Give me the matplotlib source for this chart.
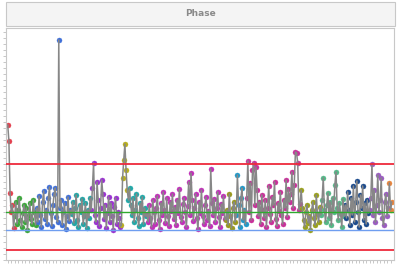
import numpy as np
import matplotlib.pyplot as plt
from matplotlib.patches import Rectangle

# phase values, one list per phase (colour)
red = [135, 119, 67, 48, 55, 32]
green = [44, 58, 36, 50, 62, 40, 33, 47, 55, 38, 52, 30, 45, 57, 41, 36, 60, 48, 35]
blue = [52, 38, 64, 45, 33, 58, 69, 41, 50, 36, 62, 73, 47, 34, 55, 66, 72, 43, 38, 220,
        52, 60, 35, 48, 57, 31, 44, 63, 39, 50]
teal = [46, 58, 37, 52, 65, 40, 33, 55, 48, 61, 36, 44, 57, 32, 50, 42, 62]
purple = [50, 72, 97, 45, 38, 78, 60, 34, 52, 80, 66, 41, 55, 32, 47, 63, 38, 57, 44, 30,
          53, 62, 36, 48, 42, 33]
yellow = [35, 82, 100, 116, 90, 70]
teal2 = [60, 72, 55, 45, 62, 38, 50, 66, 42, 34, 57, 48, 63, 36, 52, 44]
magenta = [46, 38, 55, 42, 33, 60, 48, 36, 52, 64, 40, 31, 57, 45, 68, 50, 37, 62, 44, 34,
           58, 49, 66, 41, 53, 35, 60, 47, 71, 43, 38, 56, 62, 48, 33, 54, 78, 45, 87, 60,
           39, 52, 66, 42, 31, 58, 47, 70, 44, 36, 55, 63, 40, 49, 34, 91, 57, 45, 61, 38,
           52, 68, 43, 33, 56, 47, 64, 41]
olive = [40, 50, 35, 66, 44, 32, 52, 58, 38]
tealblue = [45, 85, 55, 33, 62, 72, 40, 50, 36]
magenta2 = [62, 99, 48, 77, 40, 90, 97, 55, 93, 70, 44, 58, 36, 65, 50, 42, 60, 33, 52, 74,
            46, 38, 63, 55, 78, 41, 34, 57, 49, 68, 45, 36, 60, 52, 80, 43, 71, 58, 66, 88,
            52, 75, 108, 107, 97, 50, 56]
olive2 = [70, 52, 40, 33, 48, 55, 37, 44, 30, 50, 58, 42, 35, 65, 46, 38, 53]
greenteal = [45, 60, 82, 50, 38, 55, 67, 42, 58, 35, 62, 48, 75, 88, 52, 40, 57, 46, 33, 61, 44]
darkblue = [55, 42, 68, 50, 35, 62, 45, 74, 38, 58, 79, 48, 33, 65, 52, 74, 40, 57, 36, 60, 47]
lavender = [50, 62, 96, 45, 70, 38, 55, 85, 48, 60, 82, 42, 35, 58, 66, 44, 52]
orange = [77, 50, 58]

phases = [red, green, blue, teal, purple, yellow, teal2, magenta, olive, tealblue,
          magenta2, olive2, greenteal, darkblue, lavender, orange]
colors = ['#e2404e', '#3aa63a', '#3f6fd8', '#22a5a5', '#9a32d0', '#b8ae1c', '#22a8a8',
          '#c030b8', '#9a9a1c', '#2098c8', '#c8309a', '#9aa01c', '#55b888', '#1b4a8c',
          '#9a5cc0', '#e8843c']

ucl, lcl, center, lsl = 96, 10, 48, 30

allv = np.concatenate([np.array(p, dtype=float) for p in phases])
xs = np.arange(len(allv))

fig = plt.figure(figsize=(4, 2.65), dpi=100)
fig.patches.append(Rectangle((6/400, 1 - 26/265), 389/400, 24/265, transform=fig.transFigure,
                             facecolor='#f4f4f4', edgecolor='#c8c8c8', lw=0.8))
fig.text(200/400, 1 - 14/265, "Phase", ha='center', va='center', fontsize=6.5,
         fontweight='bold', color='#8a8a8a')

ax = fig.add_axes([6/400, 5/265, 388/400, 232/265])
start = 0
for p, c in zip(phases, colors):
    idx = np.arange(start, start + len(p))
    ax.plot(idx, p, 'o', color=c, ms=3.6, mec=c, mew=0.3, zorder=2)
    start += len(p)
ax.plot(xs, allv, color='#878787', lw=1.1, zorder=3)

ax.axhline(ucl, color='#ee2a3c', lw=1.3, zorder=4)
ax.axhline(lcl, color='#ee2a3c', lw=1.3, zorder=4)
ax.axhline(center, color='#2faa2f', lw=1.0, zorder=4)
ax.axhline(lsl, color='#6f9ef0', lw=1.0, zorder=4)

ax.set_xlim(-1.5, len(allv) + 1)
ax.set_ylim(0, 232)
ax.set_yticks(np.arange(0, 232, 6))
ax.set_xticks(np.arange(0, len(allv), 3))
ax.tick_params(length=2, width=0.5, color='#b0b0b0', labelleft=False, labelbottom=False)
for s in ax.spines.values():
    s.set_color('#c8c8c8')
    s.set_linewidth(0.8)

plt.savefig("out.png", dpi=100)
